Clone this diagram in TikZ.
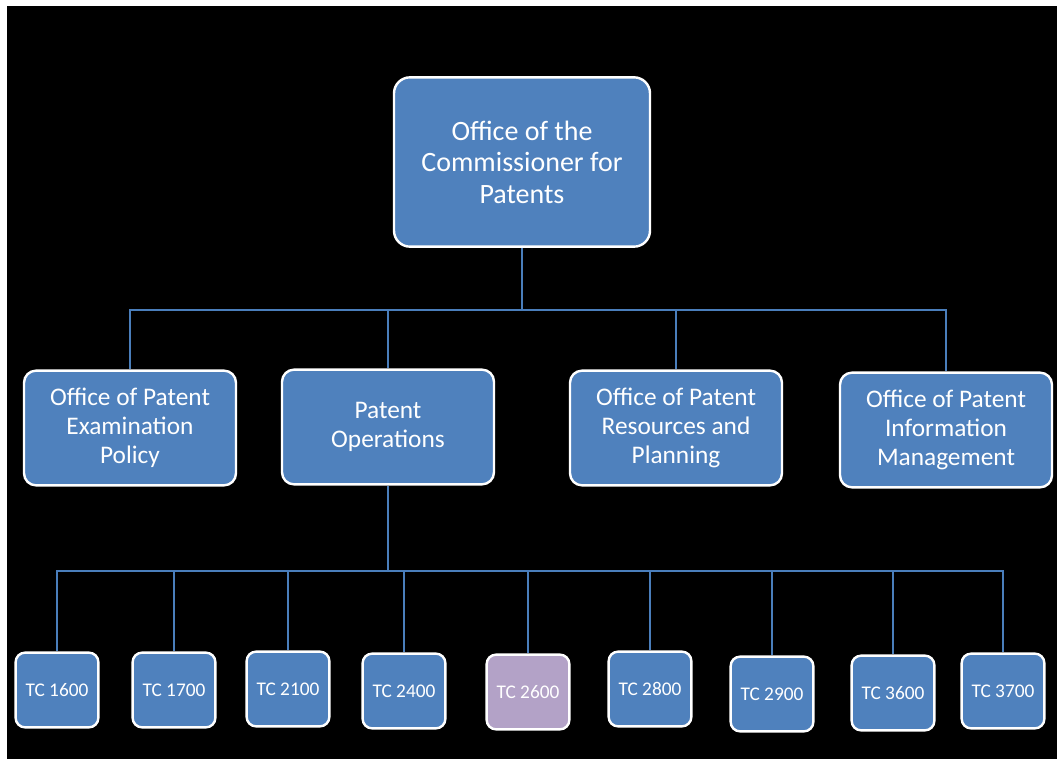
\documentclass[tikz,border=0pt]{standalone}
\usepackage{fontspec}
\setmainfont{Carlito}
\usepackage{tikz}
\usepackage{xcolor}
\definecolor{officeblue}{RGB}{79,129,189}
\definecolor{linkblue}{RGB}{74,126,187}
\definecolor{softlilac}{RGB}{179,162,199}
\usetikzlibrary{positioning}

\tikzset{
	orgbox/.style={
		draw=white,           % white border
		line width=1.8pt,     % border thickness
		fill=officeblue,      % office blue fill
		text=white,           % white text
		rectangle,            % shape
		align=center,         % centred lines
		inner sep=2pt         % padding
	},
	headbox/.style={orgbox, minimum width=192pt, minimum height=127pt, rounded corners=12pt,
		font=\fontsize{21}{23.6}\selectfont},
	deptbox/.style={orgbox, minimum width=159pt, minimum height=86pt, rounded corners=9pt,
		font=\fontsize{19}{21.75}\selectfont},
	tcbox/.style={orgbox, minimum width=62pt, minimum height=56pt, rounded corners=7pt,
		font=\fontsize{14.5}{17}\selectfont},
	link/.style={draw=linkblue, line width=1.9pt}
}

\begin{document}
\begin{tikzpicture}[x=0.75pt, y=-0.75pt]
	% page and black backdrop
	\useasboundingbox (0,0) rectangle (1057,759);
	\fill[white] (0,0) rectangle (1057,759);
	\fill[black] (7,6) rectangle (1057,759);

	% connectors go first, boxes sit on top
	\coordinate (hubtop) at (522,310);
	\coordinate (hubtc)  at (388,571);

	% top of the chart
	\node[headbox] (comm) at (522,162) {Office of the\\Commissioner for\\Patents};

	% second level
	\node[deptbox] (exam) at (130,428) {Office of Patent\\Examination\\Policy};
	\node[deptbox] (ops)  at (388,427) {Patent\\Operations};
	\node[deptbox] (plan) at (676,428) {Office of Patent\\Resources and\\Planning};
	\node[deptbox] (info) at (946,430) {Office of Patent\\Information\\Management};

	% technology centers
	\node[tcbox] (tc1600) at (57,690)   {TC 1600};
	\node[tcbox] (tc1700) at (174,690)  {TC 1700};
	\node[tcbox] (tc2100) at (288,689)  {TC 2100};
	\node[tcbox] (tc2400) at (404,691)  {TC 2400};
	\node[tcbox, fill=softlilac] (tc2600) at (528,692) {TC 2600};
	\node[tcbox] (tc2800) at (650,689)  {TC 2800};
	\node[tcbox] (tc2900) at (772,694)  {TC 2900};
	\node[tcbox] (tc3600) at (893,693)  {TC 3600};
	\node[tcbox] (tc3700) at (1003,691) {TC 3700};

	% connectors
	\draw[link] (comm.south) -- (hubtop);
	\foreach \dept in {exam,ops,plan,info}
		\draw[link] (hubtop) -| (\dept.north);
	\draw[link] (ops.south) -- (hubtc);
	\foreach \tc in {tc1600,tc1700,tc2100,tc2400,tc2600,tc2800,tc2900,tc3600,tc3700}
		\draw[link] (hubtc) -| (\tc.north);
\end{tikzpicture}
\end{document}
